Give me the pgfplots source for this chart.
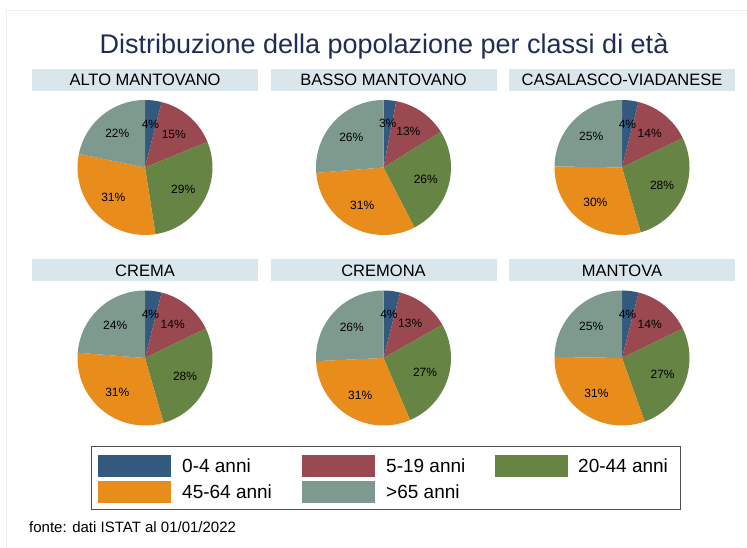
\documentclass[border=0pt]{standalone}
\usepackage{pgfplots}
\pgfplotsset{compat=1.18}
\usepackage{pgfplotstable}
\usepackage{fontspec}
\setmainfont{Liberation Sans}

\definecolor{cA}{RGB}{51,89,127}
\definecolor{cB}{RGB}{155,73,80}
\definecolor{cC}{RGB}{102,132,67}
\definecolor{cD}{RGB}{232,140,28}
\definecolor{cE}{RGB}{126,154,143}
\definecolor{stripc}{RGB}{217,230,236}
\definecolor{titlec}{RGB}{30,45,85}
\definecolor{framec}{RGB}{236,240,242}
\definecolor{legbord}{RGB}{80,80,80}

% shares (%) per age class: 0-4, 5-19, 20-44, 45-64, >65
\pgfplotstableread{
v
4
15
29
31
22
}\tAlto
\pgfplotstableread{
v
3
13
26
31
26
}\tBasso
\pgfplotstableread{
v
4
14
28
30
25
}\tCasal
\pgfplotstableread{
v
4
14
28
31
24
}\tCrema
\pgfplotstableread{
v
4
13
27
31
26
}\tCremona
\pgfplotstableread{
v
4
14
27
31
25
}\tMantova

\newcommand{\getv}[3]{\pgfplotstablegetelem{#1}{v}\of#2\let#3\pgfplotsretval}
\newcommand{\pieslice}[3]{\fill[#1] (axis cs:0,0) -- (axis cs:{cos(#2)},{sin(#2)}) arc[start angle=#2, end angle=#3, radius=67.5bp] -- cycle;}
\newcommand{\pielabel}[3]{\node[font=\fontsize{12bp}{14bp}\selectfont, inner sep=0pt] at (axis cs:{0.65*cos((#1+#2)/2)},{0.65*sin((#1+#2)/2)}) {#3\%};}

% #1 x centre, #2 y centre (tikz), #3 table, #4 title
\newcommand{\piechart}[4]{%
  \getv{0}{#3}\va \getv{1}{#3}\vb \getv{2}{#3}\vc \getv{3}{#3}\vd \getv{4}{#3}\ve
  \pgfmathsetmacro\tot{\va+\vb+\vc+\vd+\ve}%
  \pgfmathsetmacro\aA{90}%
  \pgfmathsetmacro\aB{\aA-360*\va/\tot}%
  \pgfmathsetmacro\aC{\aB-360*\vb/\tot}%
  \pgfmathsetmacro\aD{\aC-360*\vc/\tot}%
  \pgfmathsetmacro\aE{\aD-360*\vd/\tot}%
  \pgfmathsetmacro\aF{\aE-360*\ve/\tot}%
  \fill[stripc] ({#1-113},{#2+76.5}) rectangle ({#1+113},{#2+98.5});
  \node[anchor=base, inner sep=0pt, font=\fontsize{16.5bp}{18bp}\selectfont] at (#1,{#2+81.5}) {#4};
  \begin{axis}[at={(#1bp,#2bp)}, anchor=center, width=135bp, height=135bp,
    scale only axis, hide axis, xmin=-1, xmax=1, ymin=-1, ymax=1, clip=false]
    \pieslice{cA}{\aA}{\aB}
    \pieslice{cB}{\aB}{\aC}
    \pieslice{cC}{\aC}{\aD}
    \pieslice{cD}{\aD}{\aE}
    \pieslice{cE}{\aE}{\aF}
    \pielabel{\aA}{\aB}{\va}
    \pielabel{\aB}{\aC}{\vb}
    \pielabel{\aC}{\aD}{\vc}
    \pielabel{\aD}{\aE}{\vd}
    \pielabel{\aE}{\aF}{\ve}
  \end{axis}
}

\begin{document}
\begin{tikzpicture}[x=1bp, y=1bp]
  \path[use as bounding box] (0,0) rectangle (747,548);
  \draw[framec, line width=0.8bp] (6,0) -- (6,538) -- (747,538);
  \node[anchor=base, inner sep=0pt, text=titlec, font=\fontsize{27bp}{30bp}\selectfont] at (384,494) {Distribuzione della popolazione per classi di età};

  \piechart{145}{380.5}{\tAlto}{ALTO MANTOVANO}
  \piechart{383.5}{380.5}{\tBasso}{BASSO MANTOVANO}
  \piechart{622}{380.5}{\tCasal}{CASALASCO-VIADANESE}
  \piechart{145}{190}{\tCrema}{CREMA}
  \piechart{383.5}{190}{\tCremona}{CREMONA}
  \piechart{622}{190}{\tMantova}{MANTOVA}

  % legend
  \draw[legbord, line width=1bp] (91,101) rectangle (680,38);
  \fill[cA] (98,93) rectangle ++(73,-22);
  \fill[cB] (302,93) rectangle ++(73,-22);
  \fill[cC] (495,93) rectangle ++(73,-22);
  \fill[cD] (98,67) rectangle ++(73,-22);
  \fill[cE] (302,67) rectangle ++(73,-22);
  \begin{scope}[every node/.style={anchor=base west, inner sep=0pt, font=\fontsize{19bp}{21bp}\selectfont}]
    \node at (182,75) {0-4 anni};
    \node at (386,75) {5-19 anni};
    \node at (578,75) {20-44 anni};
    \node at (182,49) {45-64 anni};
    \node at (386,49) {>65 anni};
  \end{scope}
  \node[anchor=base west, inner sep=0pt, font=\fontsize{15bp}{17bp}\selectfont] at (29,15) {fonte: dati ISTAT al 01/01/2022};
\end{tikzpicture}
\end{document}
